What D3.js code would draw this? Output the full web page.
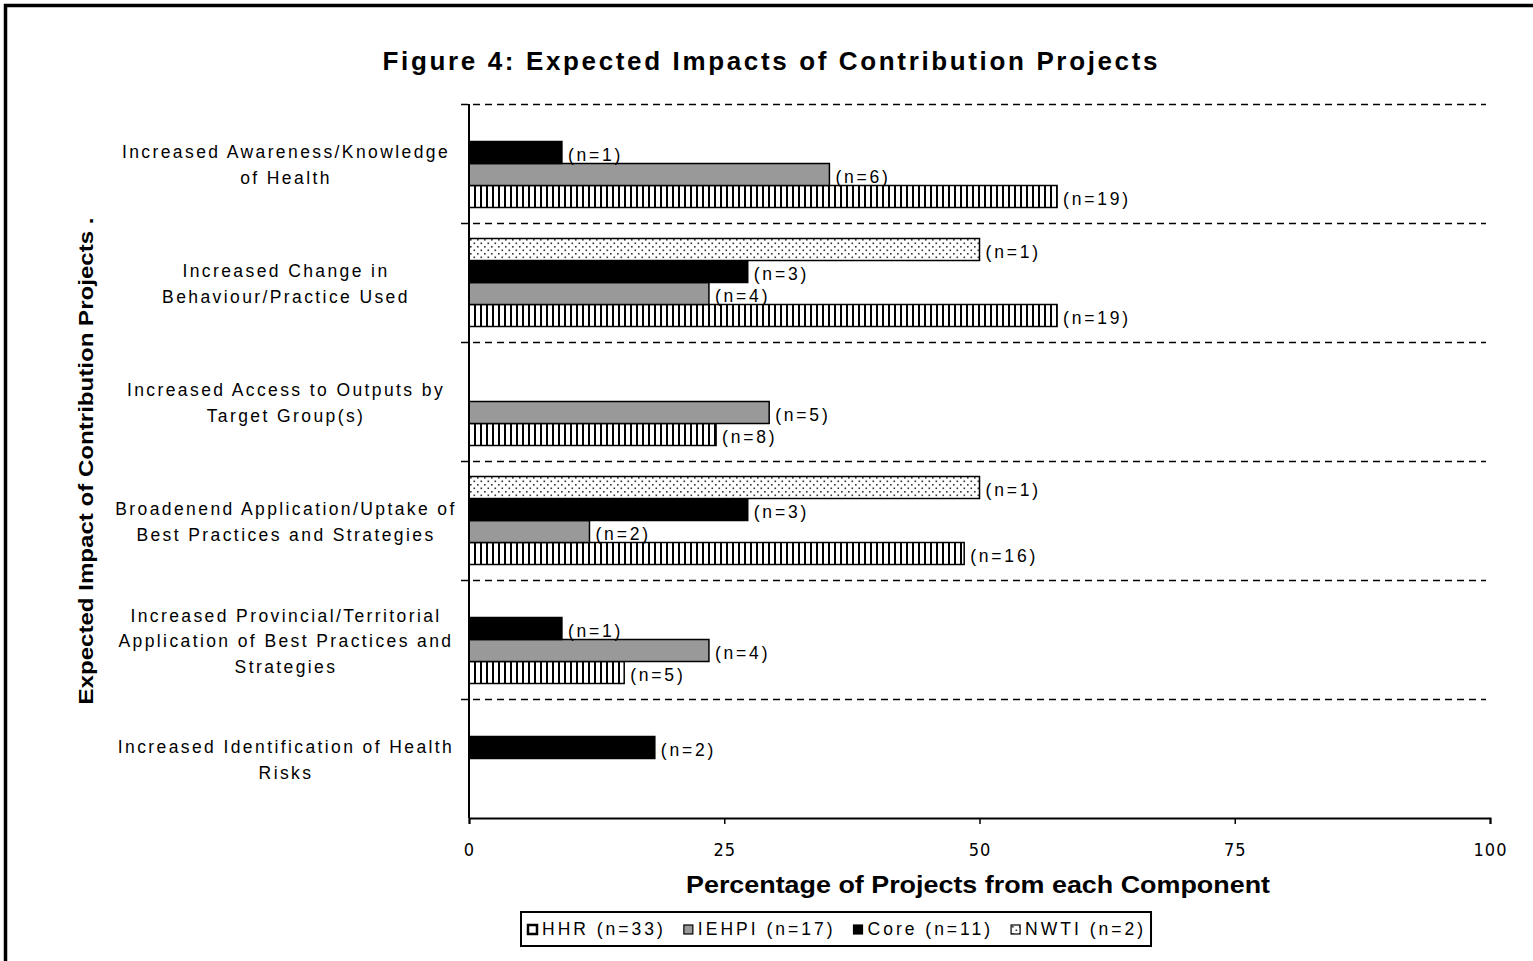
<!DOCTYPE html>
<html>
<head>
<meta charset="utf-8">
<script src="https://cdn.jsdelivr.net/npm/d3@7"></script>
<style>
  html, body { margin: 0; padding: 0; background: #fff; }
  svg { display: block; }
  text { font-family: "Liberation Sans", Arial, sans-serif; fill: #000; }
</style>
</head>
<body>
<div id="chart"></div>
<script>
// category labels, already broken into lines as in the figure
const categories = [
  ['Increased Awareness/Knowledge', 'of Health'],
  ['Increased Change in', 'Behaviour/Practice Used'],
  ['Increased Access to Outputs by', 'Target Group(s)'],
  ['Broadenend Application/Uptake of', 'Best Practices and Strategies'],
  ['Increased Provincial/Territorial', 'Application of Best Practices and', 'Strategies'],
  ['Increased Identification of Health', 'Risks']
];

// series (legend order) and their totals
const seriesNames = ['HHR', 'IEHPI', 'Core', 'NWTI'];
const seriesTotals = [33, 17, 11, 2];

// percentage of projects per category (null = no bar)
const hhrPct   = [57.6, 57.6, 24.2, 48.5, 15.2, null];
const iehpiPct = [35.3, 23.5, 29.4, 11.8, 23.5, null];
const corePct  = [9.1, 27.3, null, 27.3, 9.1, 18.2];
const nwtiPct  = [null, 50.0, null, 50.0, null, null];

// project counts shown next to the bars
const hhrN   = [19, 19, 8, 16, 5, null];
const iehpiN = [6, 4, 5, 2, 4, null];
const coreN  = [1, 3, null, 3, 1, 2];
const nwtiN  = [null, 1, null, 1, null, null];

const xTicks = [0, 25, 50, 75, 100];

const title = 'Figure 4: Expected Impacts of Contribution Projects';
const xTitle = 'Percentage of Projects from each Component';
const yTitle = 'Expected Impact of Contribution Projects .';

const W = 1533, H = 961;
const margin = { top: 104, right: 43, bottom: 143, left: 469 };

const svg = d3.select('#chart').append('svg')
  .attr('width', W)
  .attr('height', H);

// fill patterns
const defs = svg.append('defs');

const vert = defs.append('pattern')
  .attr('id', 'pat-hhr')
  .attr('patternUnits', 'userSpaceOnUse')
  .attr('width', 6).attr('height', 6);
vert.append('rect').attr('width', 6).attr('height', 6).attr('fill', '#fff');
vert.append('rect').attr('x', 0).attr('width', 2).attr('height', 6).attr('fill', '#000');

const dots = defs.append('pattern')
  .attr('id', 'pat-nwti')
  .attr('patternUnits', 'userSpaceOnUse')
  .attr('width', 7).attr('height', 7);
dots.append('rect').attr('width', 7).attr('height', 7).attr('fill', '#fff');
dots.append('rect').attr('x', 1).attr('y', 1).attr('width', 1.6).attr('height', 1.6).attr('fill', '#333');
dots.append('rect').attr('x', 4.5).attr('y', 4.5).attr('width', 1.6).attr('height', 1.6).attr('fill', '#333');

const fills = {
  HHR: 'url(#pat-hhr)',
  IEHPI: '#999999',
  Core: '#000000',
  NWTI: 'url(#pat-nwti)'
};

// build the rows
const pct = { HHR: hhrPct, IEHPI: iehpiPct, Core: corePct, NWTI: nwtiPct };
const counts = { HHR: hhrN, IEHPI: iehpiN, Core: coreN, NWTI: nwtiN };
const bars = [];
categories.forEach((c, i) => {
  seriesNames.forEach(s => {
    if (pct[s][i] != null) bars.push({ cat: i, series: s, value: pct[s][i], n: counts[s][i] });
  });
});

// scales
const x = d3.scaleLinear()
  .domain([0, 100])
  .range([margin.left, W - margin.right]);

const y = d3.scaleBand()
  .domain(categories.map((c, i) => i))
  .range([margin.top, H - margin.bottom]);

// bars inside a category: NWTI on top, HHR at the bottom
const yInner = d3.scaleBand()
  .domain(['NWTI', 'Core', 'IEHPI', 'HHR'])
  .range([15.5, y.bandwidth() - 15.5]);

// outer frame (only top and left edges show in the crop)
svg.append('path')
  .attr('d', `M5.5,${H} V5.5 H${W}`)
  .attr('fill', 'none')
  .attr('stroke', '#000')
  .attr('stroke-width', 3.5);

// title
svg.append('text')
  .attr('x', 770)
  .attr('y', 70)
  .attr('text-anchor', 'middle')
  .attr('textLength', 775)
  .attr('lengthAdjust', 'spacing')
  .style('font-size', '26px')
  .style('font-weight', 'bold')
  .text(title);

// dashed category separators
svg.append('g')
  .selectAll('line')
  .data(categories.map((c, i) => i))
  .enter().append('line')
  .attr('x1', x(0) - 8)
  .attr('x2', x(100) - 4)
  .attr('y1', d => y(d) + 0.5)
  .attr('y2', d => y(d) + 0.5)
  .attr('stroke', '#000')
  .attr('stroke-width', 1.6)
  .attr('stroke-dasharray', '7,5');

// bars
svg.append('g')
  .selectAll('rect')
  .data(bars)
  .enter().append('rect')
  .attr('x', x(0))
  .attr('y', d => y(d.cat) + yInner(d.series))
  .attr('width', d => x(d.value) - x(0))
  .attr('height', yInner.bandwidth())
  .attr('fill', d => fills[d.series])
  .attr('stroke', '#000')
  .attr('stroke-width', 1.5);

// value labels
svg.append('g')
  .selectAll('text')
  .data(bars)
  .enter().append('text')
  .attr('x', d => x(d.value) + 6)
  .attr('y', d => y(d.cat) + yInner(d.series) + yInner.bandwidth() / 2 + 2)
  .attr('dy', '0.35em')
  .style('font-size', '17.5px')
  .style('letter-spacing', '2.8px')
  .text(d => `(n=${d.n})`);

// y axis line
svg.append('line')
  .attr('x1', x(0)).attr('x2', x(0))
  .attr('y1', y.range()[0]).attr('y2', y.range()[1])
  .attr('stroke', '#000')
  .attr('stroke-width', 2);

// x axis
const xAxis = svg.append('g')
  .attr('transform', `translate(0,${y.range()[1]})`)
  .call(d3.axisBottom(x).tickValues(xTicks).tickSize(6).tickPadding(19));
xAxis.select('.domain').attr('stroke-width', 2);
xAxis.selectAll('.tick line').attr('stroke-width', 1.5);
xAxis.selectAll('.tick text')
  .style('font-family', '"Liberation Sans Narrow", "DejaVu Sans Condensed", sans-serif')
  .style('font-size', '18px')
  .style('letter-spacing', '1px');

// category labels
const catLabels = svg.append('g')
  .selectAll('text')
  .data(categories)
  .enter().append('text')
  .attr('text-anchor', 'middle')
  .style('font-size', '17.5px')
  .style('letter-spacing', '2.4px');

catLabels.each(function(lines, i) {
  const c = y(i) + y.bandwidth() / 2;
  d3.select(this).selectAll('tspan')
    .data(lines)
    .enter().append('tspan')
    .attr('x', 286)
    .attr('y', (l, j) => c + (j - (lines.length - 1) / 2) * 25.5 + 7.5)
    .text(l => l);
});

// axis titles
svg.append('text')
  .attr('x', 978)
  .attr('y', 893)
  .attr('text-anchor', 'middle')
  .attr('textLength', 584)
  .attr('lengthAdjust', 'spacingAndGlyphs')
  .style('font-family', '"Liberation Sans Narrow", "Liberation Sans", sans-serif')
  .style('font-size', '24px')
  .style('font-weight', 'bold')
  .text(xTitle);

svg.append('text')
  .attr('transform', 'translate(93,461) rotate(-90)')
  .attr('text-anchor', 'middle')
  .attr('textLength', 487)
  .attr('lengthAdjust', 'spacingAndGlyphs')
  .style('font-size', '21px')
  .style('font-weight', 'bold')
  .text(yTitle);

// legend
const legend = svg.append('g');
const legendItems = legend.selectAll('g')
  .data(seriesNames)
  .enter().append('g');

legendItems.append('rect')
  .attr('width', 9).attr('height', 9)
  .attr('fill', d => d === 'HHR' ? '#fff' : fills[d])
  .attr('stroke', '#000')
  .attr('stroke-width', d => d === 'HHR' ? 2.5 : 1.2);

legendItems.append('text')
  .attr('x', 14)
  .attr('y', 10)
  .style('font-size', '17.5px')
  .style('letter-spacing', '3px')
  .text((d, i) => `${d} (n=${seriesTotals[i]})`);

let cursor = 528;
legendItems.each(function() {
  const g = d3.select(this);
  const w = 14 + g.select('text').node().getComputedTextLength();
  g.attr('transform', `translate(${cursor},${925})`);
  cursor += w + 18;
});

const lb = legend.node().getBBox();
legend.insert('rect', ':first-child')
  .attr('x', 521)
  .attr('y', 912)
  .attr('width', lb.x + lb.width + 5 - 521)
  .attr('height', 34)
  .attr('fill', '#fff')
  .attr('stroke', '#000')
  .attr('stroke-width', 2);
</script>
</body>
</html>
